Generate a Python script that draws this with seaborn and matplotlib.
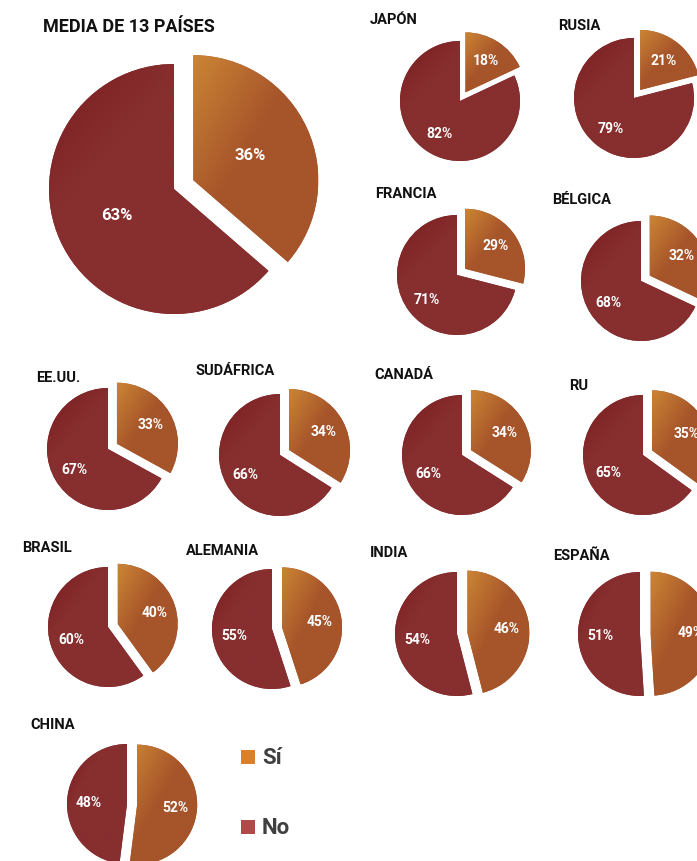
import numpy as np
import matplotlib
matplotlib.use("Agg")
import matplotlib.pyplot as plt
import seaborn as sns
from matplotlib.colors import to_rgb

sns.set_theme(style="white")
plt.rcParams['font.family'] = ['Roboto', 'DejaVu Sans']

# ---- data ----
countries = ["MEDIA DE 13 PAÍSES", "JAPÓN", "RUSIA", "FRANCIA", "BÉLGICA",
             "EE.UU.", "SUDÁFRICA", "CANADÁ", "RU",
             "BRASIL", "ALEMANIA", "INDIA", "ESPAÑA", "CHINA"]
si_values = [36, 18, 21, 29, 32, 33, 34, 34, 35, 40, 45, 46, 49, 52]
no_values = [63, 82, 79, 71, 68, 67, 66, 66, 65, 60, 55, 54, 51, 48]
legend_labels = ["Sí", "No"]

# ---- layout (pixel coords, y from top) ----
W, H = 697, 862
centers = [(174, 190), (460, 102), (634, 99), (457, 276), (641, 282),
           (108, 450), (280, 456), (462, 456), (643, 456),
           (108, 628), (272, 630), (457, 635), (640, 635), (127, 805)]
radii = [125, 60, 60, 60, 60, 61, 61, 60, 60, 60, 60, 62, 62, 60]
title_pos = [(43, 27), (370, 20), (558, 26), (375, 194), (552, 200),
             (36, 378), (196, 371), (374, 375), (569, 386),
             (22, 548), (186, 551), (370, 553), (553, 556), (30, 725)]

SI_LIGHT, SI_DARK = "#CB8534", "#A6542A"
NO_LIGHT, NO_DARK = "#7A1D1F", "#872E2F"

fig = plt.figure(figsize=(W / 100, H / 100), dpi=100)
ax = fig.add_axes([0, 0, 1, 1])


def gradient_fill(wedge, c0, c1, reach):
    bb = wedge.get_path().get_extents(wedge.get_patch_transform())
    n = 80
    u = np.linspace(0, 1, n)[None, :]
    v = np.linspace(0, 1, n)[:, None]  # 0 = top
    t = np.clip((u + v) / reach, 0, 1)
    a, b = np.array(to_rgb(c0)), np.array(to_rgb(c1))
    img = a[None, None, :] * (1 - t[..., None]) + b[None, None, :] * t[..., None]
    im = ax.imshow(img, extent=(bb.x0, bb.x1, bb.y0, bb.y1), origin="upper",
                   zorder=2, interpolation="bilinear")
    im.set_clip_path(wedge)


for i, name in enumerate(countries):
    cx, cy = centers[i]
    r = radii[i]
    big = i == 0
    vals = [si_values[i], no_values[i]]
    labs = [f"{v}%" for v in vals]
    wedges, texts = ax.pie(
        vals, labels=labs, startangle=90, counterclock=False,
        colors=[SI_DARK, NO_DARK], explode=[0.17 * r, 0],
        center=(cx, H - cy), radius=r, labeldistance=0.5 if big else 0.64,
        frame=True, normalize=True,
        wedgeprops=dict(linewidth=0),
        textprops=dict(color="white", fontweight="bold",
                       fontsize=12 if big else 10, ha="center", va="center",
                       zorder=5))
    gradient_fill(wedges[0], SI_LIGHT, SI_DARK, 0.9)
    gradient_fill(wedges[1], NO_LIGHT, NO_DARK, 0.6)
    tx, ty = title_pos[i]
    ax.text(tx, H - ty, name, ha="left", va="center", fontweight="bold",
            fontsize=13 if big else 10.5, color="#111111", zorder=6)

# ---- legend ----
leg_colors = ["#DA7F2A", "#B04A48"]
leg_y = [758, 828]
for lab, col, ly in zip(legend_labels, leg_colors, leg_y):
    ax.add_patch(plt.Rectangle((241, H - ly - 7), 14, 14, facecolor=col,
                               edgecolor="none", zorder=3))
    ax.text(262, H - ly, lab, ha="left", va="center", fontsize=16,
            fontweight="bold", color="#404040", zorder=6)

ax.set_xlim(0, W)
ax.set_ylim(0, H)
ax.set_aspect("auto")
ax.axis("off")
fig.savefig("out.png", dpi=100)
